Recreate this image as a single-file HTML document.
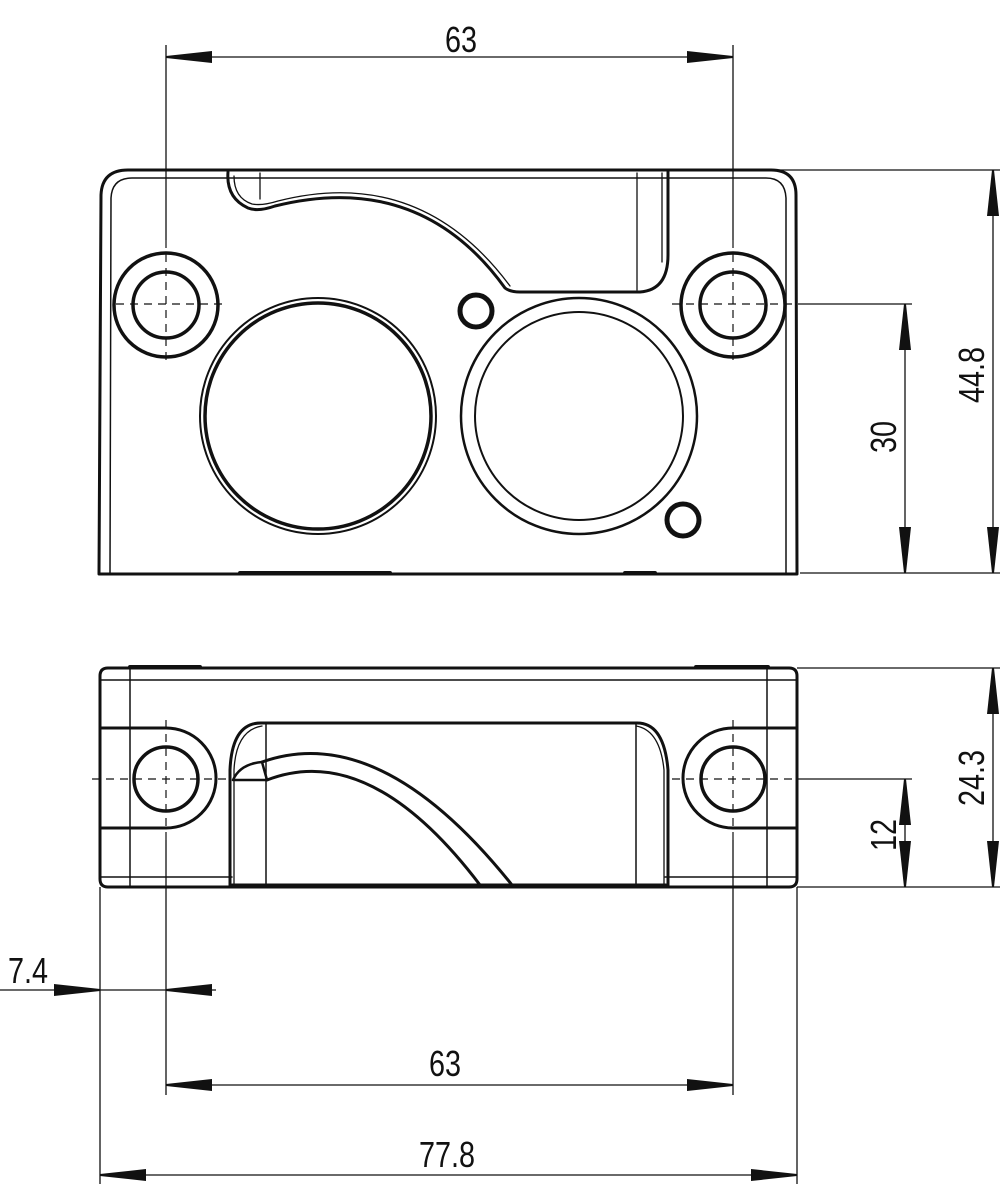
<!DOCTYPE html>
<html><head><meta charset="utf-8"><style>html,body{margin:0;padding:0;background:#fff}svg{display:block}</style></head>
<body>
<svg width="1000" height="1184" viewBox="0 0 1000 1184" xmlns="http://www.w3.org/2000/svg">
<defs>
<marker id="a" viewBox="0 0 46 12" refX="46" refY="6" markerWidth="46" markerHeight="12" markerUnits="userSpaceOnUse" orient="auto-start-reverse">
<path d="M0,0 L46,5 L46,7 L0,12 Z" fill="#111"/></marker>
</defs>
<g fill="none" stroke="#111" stroke-linecap="round" stroke-linejoin="round">
<!-- TOP VIEW -->
<path d="M99,574 L101,195 Q102,170 128,170 L771,170 Q796,170 796,195 L797,574 Z" stroke-width="3"/>
<path d="M110,574 L111,198 Q112,178 132,178 L766,178 Q785,178 786,198 L786,574" stroke-width="1.5"/>
<line x1="240" y1="573" x2="390" y2="573" stroke-width="4"/>
<line x1="625" y1="573" x2="655" y2="573" stroke-width="4"/>
<!-- slot -->
<path d="M228,172 Q226,198 248,208 Q258,212 275,206 Q420,170 505,288 Q510,292 520,292 L640,292 Q668,290 668,255 L668,172" stroke-width="3"/>
<path d="M234,176 Q234,198 252,204 Q262,206 278,201 Q420,165 510,286" stroke-width="1.3"/>
<line x1="260" y1="173" x2="260" y2="199" stroke-width="1.3"/>
<line x1="637" y1="173" x2="637" y2="290" stroke-width="1.3"/>
<line x1="662" y1="173" x2="662" y2="262" stroke-width="1.3"/>
<!-- mounting holes -->
<circle cx="166" cy="305" r="52" stroke-width="3.5"/>
<circle cx="166" cy="305" r="33" stroke-width="3.5"/>
<circle cx="733" cy="305" r="52" stroke-width="3.5"/>
<circle cx="733" cy="305" r="33" stroke-width="3.5"/>
<!-- big circles -->
<circle cx="318" cy="416" r="118" stroke-width="2"/>
<circle cx="318" cy="416" r="113" stroke-width="3.5"/>
<circle cx="579" cy="416" r="118" stroke-width="2.5"/>
<circle cx="579" cy="416" r="104" stroke-width="2"/>
<circle cx="476" cy="311" r="16" stroke-width="5"/>
<circle cx="683" cy="520" r="16" stroke-width="5"/>

<!-- BOTTOM VIEW -->
<path d="M108,668 L789,668 Q797,668 797,676 L797,879 Q797,887 789,887 L108,887 Q100,887 100,879 L100,676 Q100,668 108,668 Z" stroke-width="3"/>
<line x1="130" y1="667" x2="200" y2="667" stroke-width="4"/>
<line x1="696" y1="667" x2="768" y2="667" stroke-width="4"/>
<line x1="101" y1="680" x2="796" y2="680" stroke-width="1.5"/>
<line x1="130" y1="668" x2="130" y2="887" stroke-width="1.5"/>
<line x1="767" y1="668" x2="767" y2="887" stroke-width="1.5"/>
<line x1="101" y1="877" x2="232" y2="877" stroke-width="1.5"/>
<line x1="665" y1="877" x2="796" y2="877" stroke-width="1.5"/>
<path d="M100,728 L166,728 A50,50 0 0 1 166,828 L100,828" stroke-width="3"/>
<path d="M797,728 L733,728 A50,50 0 0 0 733,828 L797,828" stroke-width="3"/>
<circle cx="166" cy="779" r="32" stroke-width="3.5"/>
<circle cx="733" cy="779" r="32" stroke-width="3.5"/>
<path d="M230,887 L230,770 Q232,722 262,723 L636,723 Q664,722 668,770 L668,887" stroke-width="3"/>
<path d="M234,885 L234,770 Q236,730 262,726" stroke-width="1.3"/>
<path d="M664,885 L664,770 Q660,730 636,726" stroke-width="1.3"/>
<line x1="266" y1="724" x2="266" y2="886" stroke-width="1.5"/>
<line x1="636" y1="724" x2="636" y2="886" stroke-width="1.5"/>
<line x1="232" y1="885" x2="666" y2="885" stroke-width="3"/>
<path d="M262,762 Q380,720 512,885" stroke-width="3"/>
<path d="M267,780 Q370,740 480,885" stroke-width="3"/>
<path d="M233,780 Q240,764 262,762 L267,780 L233,780" stroke-width="2.5"/>
</g>

<!-- centerlines -->
<g stroke="#111" stroke-width="1.2" stroke-dasharray="8,6" fill="none">
<line x1="116" y1="304" x2="228" y2="304"/>
<line x1="672" y1="304" x2="800" y2="304"/>
<line x1="166" y1="240" x2="166" y2="362"/>
<line x1="733" y1="240" x2="733" y2="362"/>
<line x1="92" y1="779" x2="230" y2="779"/>
<line x1="672" y1="779" x2="800" y2="779"/>
<line x1="166" y1="720" x2="166" y2="840"/>
<line x1="733" y1="720" x2="733" y2="840"/>
</g>

<!-- dimension lines -->
<g stroke="#111" stroke-width="1.3" fill="none">
<line x1="166" y1="45" x2="166" y2="240"/>
<line x1="733" y1="45" x2="733" y2="240"/>
<line x1="166" y1="57" x2="733" y2="57" marker-start="url(#a)" marker-end="url(#a)"/>
<line x1="770" y1="170" x2="1000" y2="170"/>
<line x1="800" y1="573" x2="1000" y2="573"/>
<line x1="800" y1="304" x2="912" y2="304"/>
<line x1="993" y1="170" x2="993" y2="573" marker-start="url(#a)" marker-end="url(#a)"/>
<line x1="905" y1="304" x2="905" y2="573" marker-start="url(#a)" marker-end="url(#a)"/>
<line x1="797" y1="668" x2="1000" y2="668"/>
<line x1="797" y1="887" x2="1000" y2="887"/>
<line x1="800" y1="779" x2="912" y2="779"/>
<line x1="993" y1="668" x2="993" y2="887" marker-start="url(#a)" marker-end="url(#a)"/>
<line x1="905" y1="779" x2="905" y2="887" marker-start="url(#a)" marker-end="url(#a)"/>
<line x1="100" y1="887" x2="100" y2="1184"/>
<line x1="166" y1="840" x2="166" y2="1095"/>
<line x1="733" y1="840" x2="733" y2="1095"/>
<line x1="797" y1="887" x2="797" y2="1184"/>
<line x1="0" y1="990" x2="100" y2="990" marker-end="url(#a)"/>
<line x1="216" y1="990" x2="166" y2="990" marker-end="url(#a)"/>
<line x1="100" y1="990" x2="166" y2="990"/>
<line x1="166" y1="1085" x2="733" y2="1085" marker-start="url(#a)" marker-end="url(#a)"/>
<line x1="100" y1="1175" x2="797" y2="1175" marker-start="url(#a)" marker-end="url(#a)"/>
</g>

<g font-family="Liberation Sans, sans-serif" font-size="36" fill="#111" text-anchor="middle">
<text x="461" y="52" transform="translate(461 0) scale(0.8 1) translate(-461 0)">63</text>
<text x="0" y="0" transform="translate(984 375) rotate(-90) scale(0.8 1)">44.8</text>
<text x="0" y="0" transform="translate(896 437) rotate(-90) scale(0.8 1)">30</text>
<text x="0" y="0" transform="translate(984 778) rotate(-90) scale(0.8 1)">24.3</text>
<text x="0" y="0" transform="translate(896 835) rotate(-90) scale(0.8 1)">12</text>
<text x="0" y="0" transform="translate(28 983) scale(0.8 1)">7.4</text>
<text x="0" y="0" transform="translate(445 1076) scale(0.8 1)">63</text>
<text x="0" y="0" transform="translate(447 1167) scale(0.8 1)">77.8</text>
</g>
</svg>
</body></html>
